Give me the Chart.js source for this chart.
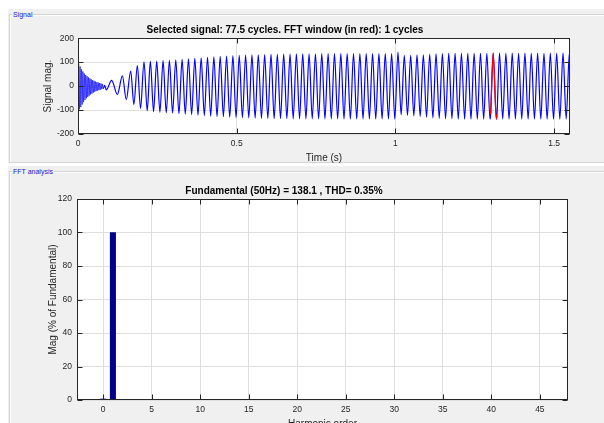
<!DOCTYPE html>
<html>
<head>
<meta charset="utf-8">
<script src="https://cdn.jsdelivr.net/npm/chart.js@4.4.1/dist/chart.umd.min.js"></script>
<style>
    body { margin: 0; width: 604px; height: 423px; overflow: hidden; position: relative; background: #ffffff; font-family: "Liberation Sans", Arial, sans-serif; }
    .panel { position: absolute; background: #f0f0f0; }
    .frame { position: absolute; border: 1px solid #d5d5d5; box-shadow: inset 1px 1px 0 #ffffff; }
    .legend { position: absolute; font-size: 7px; color: #2020d0; background: #f0f0f0; padding: 0 1px; line-height: 9px; }
    canvas { position: absolute; left: 0; }
</style>
</head>
<body>
<div class="panel" style="left:8px;top:9px;width:596px;height:154px"></div>
<div class="frame" style="left:9px;top:14px;width:600px;height:147px"></div>
<span class="legend" style="left:12px;top:10px">Signal</span>

<div class="panel" style="left:8px;top:166px;width:596px;height:257px"></div>
<div class="frame" style="left:9px;top:171px;width:600px;height:260px"></div>
<span class="legend" style="left:12px;top:167px">FFT analysis</span>

<canvas id="signalChart" width="604" height="146" style="top:18px"></canvas>
<canvas id="fftChart" width="604" height="264" style="top:176px"></canvas>

<script>
// signal: extrema (time in s, magnitude)
const signalTime = [
    0.0000, 0.0022, 0.0044, 0.0066, 0.0088, 0.0110, 0.0132, 0.0154, 0.0176, 0.0198,
    0.0220, 0.0242, 0.0264, 0.0286, 0.0308, 0.0330, 0.0352, 0.0374, 0.0396, 0.0418,
    0.0440, 0.0462, 0.0484, 0.0506, 0.0528, 0.0550, 0.0572, 0.0594, 0.0616, 0.0638,
    0.0660, 0.0682, 0.0704, 0.0726, 0.0748, 0.0770, 0.0792,
    0.084, 0.089, 0.106, 0.124, 0.140, 0.152, 0.166, 0.176, 0.187,
    0.197, 0.208, 0.218,
    0.228, 0.238, 0.248, 0.258, 0.268, 0.278, 0.288, 0.298, 0.308, 0.318,
    0.328, 0.338, 0.348, 0.358, 0.368, 0.378, 0.388, 0.398, 0.408, 0.418,
    0.428, 0.438, 0.448, 0.458, 0.468, 0.478, 0.488, 0.498, 0.508, 0.518,
    0.528, 0.538, 0.548, 0.558, 0.568, 0.578, 0.588, 0.598, 0.608, 0.618,
    0.628, 0.638, 0.648, 0.658, 0.668, 0.678, 0.688, 0.698, 0.708, 0.718,
    0.728, 0.738, 0.748, 0.758, 0.768, 0.778, 0.788, 0.798, 0.808, 0.818,
    0.828, 0.838, 0.848, 0.858, 0.868, 0.878, 0.888, 0.898, 0.908, 0.918,
    0.928, 0.938, 0.948, 0.958, 0.968, 0.978, 0.988, 0.998,
    1.008, 1.018, 1.028, 1.038, 1.048, 1.058, 1.068, 1.078, 1.088, 1.098,
    1.108, 1.118, 1.128, 1.138, 1.148, 1.158, 1.168, 1.178, 1.188, 1.198,
    1.208, 1.218, 1.228, 1.238, 1.248, 1.258, 1.268, 1.278, 1.288, 1.298,
    1.300, 1.308, 1.318, 1.320,
    1.328, 1.338, 1.348, 1.358, 1.368, 1.378, 1.388, 1.398, 1.408, 1.418,
    1.428, 1.438, 1.448, 1.458, 1.468, 1.478, 1.488, 1.498, 1.508, 1.518,
    1.528, 1.538, 1.548, 1.550
];
const signalMag = [
    0, 93, -97, 82, -88, 70, -77, 61, -67, 53,
    -58, 46, -51, 41, -45, 36, -40, 32, -35, 28,
    -31, 25, -27, 22, -24, 19, -21, 17, -19, 15,
    -17, 13, -15, 11, -13, 9, -11,
    3, -16, 24, -35, 43, -57, 63, -76, 86,
    -93, 101, -103,
    103, -107, 104, -109, 106, -111, 108, -113, 110, -115,
    112, -117, 114, -119, 116, -121, 118, -123, 120, -125,
    122, -127, 124, -128, 125, -130, 127, -131, 128, -132,
    129, -133, 130, -134, 131, -135, 132, -135, 133, -136,
    133, -136, 134, -136, 134, -137, 135, -137, 135, -137,
    135, -137, 135, -137, 136, -137, 136, -137, 136, -137,
    136, -138, 136, -138, 136, -138, 136, -138, 136, -138,
    136, -138, 136, -138, 136, -138, 136, -138,
    142, -120, 128, -122, 128, -124, 130, -127, 131, -130,
    133, -133, 135, -135, 136, -137, 137, -137, 137, -138,
    137, -138, 137, -138, 137, -138, 137, -138, 137, -138,
    -117, 138, -138, -117,
    138, -138, 137, -138, 138, -138, 137, -138, 138, -138,
    137, -138, 138, -138, 137, -138, 138, -138, 137, -138,
    138, -138, 138, 130
];
// FFT window (in red)
const windowTime = [1.300, 1.308, 1.318, 1.320];
const windowMag = [-117, 138, -138, -117];

const timeTicks = [0, 0.5, 1, 1.5];
const signalTicks = [-200, -100, 0, 100, 200];

// harmonic spectrum (% of fundamental)
const harmonicOrder = [0, 1, 2, 3, 4, 5, 6, 7, 8, 9, 10];
const harmonicMag = [0.6, 100, 0.25, 0.15, 0.12, 0.1, 0.08, 0.06, 0.05, 0.04, 0.03];

const harmonicTicks = [0, 5, 10, 15, 20, 25, 30, 35, 40, 45];
const magTicks = [0, 20, 40, 60, 80, 100, 120];

const FONT = '"Liberation Sans", Arial, sans-serif';
const GRID = '#dfdfdf';
const AXIS = '#262626';

// white axes background + box with inward ticks, like matlab
const matlabAxes = {
    id: 'matlabAxes',
    beforeDraw(chart) {
        const a = chart.chartArea;
        const ctx = chart.ctx;
        ctx.save();
        ctx.fillStyle = '#ffffff';
        ctx.fillRect(a.left, a.top, a.right - a.left, a.bottom - a.top);
        ctx.restore();
    },
    afterDraw(chart) {
        const { ctx, chartArea: a, scales } = chart;
        const L = Math.round(a.left) + 0.5;
        const R = Math.round(a.right) - 0.5;
        const T = Math.round(a.top) + 0.5;
        const B = Math.round(a.bottom) - 0.5;
        ctx.save();
        ctx.strokeStyle = AXIS;
        ctx.lineWidth = 1;
        ctx.strokeRect(L, T, R - L, B - T);
        ctx.beginPath();
        scales.x.ticks.forEach(t => {
            const px = Math.round(scales.x.getPixelForValue(t.value)) + 0.5;
            ctx.moveTo(px, B); ctx.lineTo(px, B - 5);
            ctx.moveTo(px, T); ctx.lineTo(px, T + 5);
        });
        scales.y.ticks.forEach(t => {
            const py = Math.round(scales.y.getPixelForValue(t.value)) + 0.5;
            ctx.moveTo(L, py); ctx.lineTo(L + 5, py);
            ctx.moveTo(R, py); ctx.lineTo(R - 5, py);
        });
        ctx.stroke();
        ctx.restore();
    }
};

const tickFont = { family: FONT, size: 8.5 };
const labelFont = { family: FONT, size: 10 };
const titleFont = { family: FONT, size: 10, weight: 'bold' };

new Chart(document.getElementById('signalChart'), {
    type: 'line',
    data: {
        datasets: [{
            data: windowTime.map((t, i) => ({ x: t, y: windowMag[i] })),
            borderColor: '#ff0000',
            borderWidth: 1.3,
            pointRadius: 0,
            cubicInterpolationMode: 'monotone',
            order: 0
        }, {
            data: signalTime.map((t, i) => ({ x: t, y: signalMag[i] })),
            borderColor: '#0000ff',
            borderWidth: 1.2,
            pointRadius: 0,
            cubicInterpolationMode: 'monotone',
            segment: {
                // fast ringing at start is drawn thinner so the strokes stay apart
                borderWidth: ctx => ctx.p1.parsed.x < 0.082 ? 0.7 : undefined
            },
            order: 1
        }]
    },
    options: {
        responsive: false,
        animation: false,
        devicePixelRatio: 1,
        layout: { padding: { left: 0, right: 34, top: 0, bottom: 0 } },
        plugins: {
            legend: { display: false },
            tooltip: { enabled: false },
            title: {
                display: true,
                text: 'Selected signal: 77.5 cycles. FFT window (in red): 1 cycles',
                font: titleFont,
                color: '#000000',
                padding: { top: 6.7, bottom: 1.5 }
            }
        },
        scales: {
            x: {
                type: 'linear',
                min: 0,
                max: 1.55,
                afterBuildTicks: s => { s.ticks = timeTicks.map(v => ({ value: v })); },
                afterFit: s => { s.height = 30; },
                ticks: { font: tickFont, color: AXIS, padding: 5, maxRotation: 0, callback: v => String(v) },
                grid: { color: GRID, drawTicks: false },
                border: { display: false },
                title: { display: true, text: 'Time (s)', font: labelFont, color: AXIS, padding: { top: 0, bottom: 0 } }
            },
            y: {
                min: -200,
                max: 200,
                afterBuildTicks: s => { s.ticks = signalTicks.map(v => ({ value: v })); },
                afterFit: s => { s.width = 78; },
                ticks: { font: tickFont, color: AXIS, padding: 4, callback: v => String(v) },
                grid: { color: GRID, drawTicks: false },
                border: { display: false },
                title: { display: true, text: 'Signal mag.', font: labelFont, color: AXIS, padding: { top: 42.3, bottom: 0 } }
            }
        }
    },
    plugins: [matlabAxes]
});

new Chart(document.getElementById('fftChart'), {
    type: 'bar',
    data: {
        datasets: [{
            data: harmonicOrder.map((h, i) => ({ x: h, y: harmonicMag[i] })),
            backgroundColor: '#00008c',
            borderWidth: 0,
            barThickness: 5.4
        }]
    },
    options: {
        responsive: false,
        animation: false,
        devicePixelRatio: 1,
        layout: { padding: { left: 0, right: 36, top: 0, bottom: 0 } },
        plugins: {
            legend: { display: false },
            tooltip: { enabled: false },
            title: {
                display: true,
                text: 'Fundamental (50Hz) = 138.1 , THD= 0.35%',
                font: titleFont,
                color: '#000000',
                padding: { top: 9.7, bottom: 1.3 }
            }
        },
        scales: {
            x: {
                type: 'linear',
                min: -2.7,
                max: 47.9,
                offset: false,
                afterBuildTicks: s => { s.ticks = harmonicTicks.map(v => ({ value: v })); },
                afterFit: s => { s.height = 40; },
                ticks: { font: tickFont, color: AXIS, padding: 5, maxRotation: 0, callback: v => String(v) },
                grid: { color: GRID, drawTicks: false, offset: false },
                border: { display: false },
                title: { display: true, text: 'Harmonic order', font: labelFont, color: AXIS, padding: { top: 0, bottom: 10 } }
            },
            y: {
                min: 0,
                max: 120,
                afterBuildTicks: s => { s.ticks = magTicks.map(v => ({ value: v })); },
                afterFit: s => { s.width = 77; },
                ticks: { font: tickFont, color: AXIS, padding: 5, callback: v => String(v) },
                grid: { color: GRID, drawTicks: false },
                border: { display: false },
                title: { display: true, text: 'Mag (% of Fundamental)', font: labelFont, color: AXIS, padding: { top: 47.3, bottom: 0 } }
            }
        }
    },
    plugins: [matlabAxes]
});
</script>
</body>
</html>
